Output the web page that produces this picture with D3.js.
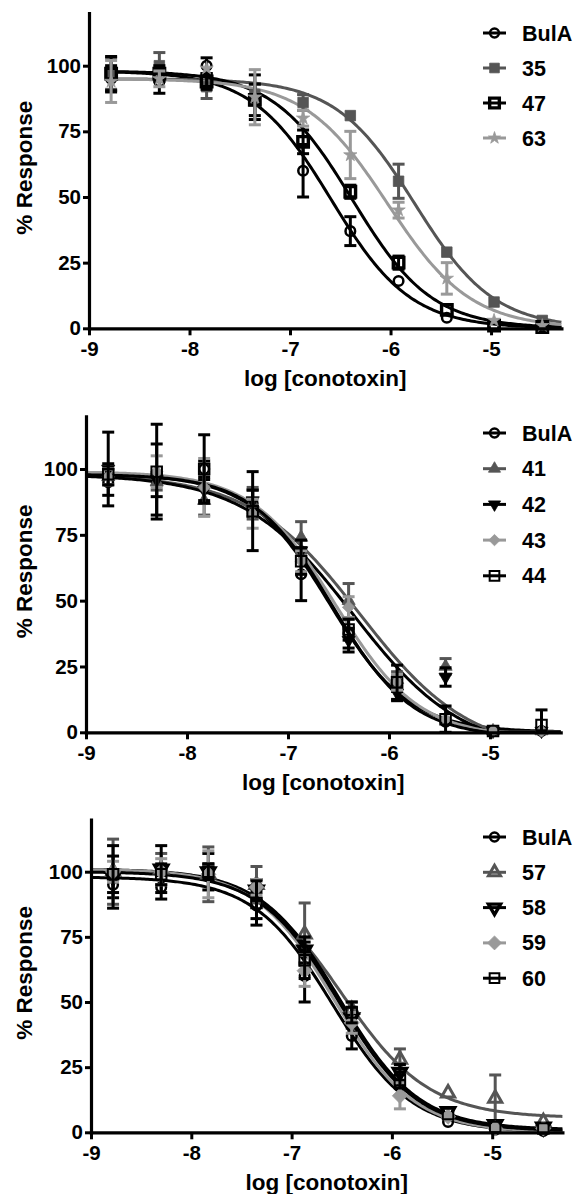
<!DOCTYPE html>
<html><head><meta charset="utf-8">
<script src="https://cdn.jsdelivr.net/npm/d3@7"></script>
<style>
body{margin:0;background:#fff}
svg{display:block}
text{font-family:"Liberation Sans",Arial,Helvetica,sans-serif;font-weight:bold;fill:#000}
</style>
</head><body>
<svg id="chart" width="577" height="1194"></svg>
<script>
// ---------- data ----------
const logConc = [-8.78, -8.30, -7.83, -7.35, -6.87, -6.40, -5.92, -5.44, -4.97, -4.49];
const xTicks = [-9, -8, -7, -6, -5];
const yTicks = [0, 25, 50, 75, 100];
const xTitle = "log [conotoxin]";
const yTitle = "% Response";

// Panel A
const A_series = ["BulA", "35", "47", "63"];
const A_BulA = [95, 94, 100, 88, 60, 37, 18, 4, 1, 0.5];
const A_BulA_sem = [5, 4.5, 3, 8.5, 10, 5.5, 2, 1.5, 1, 0.5];
const A_35 = [97, 100, 92, 89, 86, 81, 56, 29, 10, 3];
const A_35_sem = [6, 5, 4.5, 4, 3, 2, 6.5, 2, 1.5, 1];
const A_47 = [97, 97, 94, 87, 71, 52, 25, 7, 1, 0.5];
const A_47_sem = [6.5, 3, 3, 6, 4.5, 2.5, 2.5, 2, 1, 0.5];
const A_63 = [94, 95, 99, 88, 80, 66, 45, 19, 3, 1];
const A_63_sem = [8, 3, 2, 10.5, 3, 9, 3, 6, 1.5, 1];
const A_top = [98, 95, 98, 95];
const A_bottom = [0, 0, 0, 0];
const A_logIC50 = [-6.59, -5.76, -6.38, -6.03];
const A_hill = [1.1, 1.1, 1.1, 1.05];

// Panel B
const B_series = ["BulA", "41", "42", "43", "44"];
const B_BulA = [95, 94, 100, 87, 60, 37.5, 18.5, 4, 0.5, 0.5];
const B_BulA_sem = [5, 4.5, 3, 5, 10, 5.5, 3, 2, 1, 0.5];
const B_41 = [97, 95, 88, 87, 74, 50, 20, 25, 0.5, 0.5];
const B_41_sem = [3, 3, 5.5, 6, 6, 6.5, 3, 3, 1, 0.5];
const B_42 = [100, 96, 92, 88, 69, 35, 15, 21, 0.5, 0.5];
const B_42_sem = [14, 13.5, 4, 4, 4, 4.5, 3, 3.5, 1, 0.5];
const B_43 = [97, 99, 93, 83, 65, 47.5, 19, 5, 0.5, 0.5];
const B_43_sem = [3, 6, 11, 5.5, 4, 4, 3, 2, 1, 0.5];
const B_44 = [98, 99, 100, 84, 65, 39, 19, 5, 0.5, 2.8];
const B_44_sem = [4, 18, 13, 15, 5, 4, 6.5, 5, 1, 5.7];
const B_top = [98, 98, 98, 99, 98];
const B_bottom = [0, -8, -8, -2, -2];
const B_logIC50 = [-6.59, -6.29, -6.36, -6.53, -6.56];
const B_hill = [1.1, 0.8, 0.8, 1.05, 1.1];

// Panel C
const C_series = ["BulA", "57", "58", "59", "60"];
const C_BulA = [95, 94, 100, 87, 60, 37, 18, 4, 1, 0.5];
const C_BulA_sem = [5, 4.5, 3, 5, 10, 5, 2, 1.5, 1, 0.5];
const C_57 = [100, 101, 99, 95, 76, 47, 28, 15, 13, 4];
const C_57_sem = [12.5, 6, 10.5, 7, 12, 3, 4, 2, 9, 1.5];
const C_58 = [98, 101, 100, 93, 70, 44, 23, 8, 3, 2];
const C_58_sem = [12, 9, 7, 4, 5, 4, 3, 2, 1, 1];
const C_59 = [100, 100, 99, 94, 62, 42, 14, 6, 1.5, 1.5];
const C_59_sem = [4, 5, 9, 3, 6, 4, 5, 2, 1, 1];
const C_60 = [99, 99, 100, 88, 66, 46, 20, 7, 2, 1.5];
const C_60_sem = [7, 4, 3, 8.5, 7, 4, 3, 2, 1, 1];
const C_top = [98, 101, 101, 101, 100];
const C_bottom = [0, 5.5, 1, 0, 0.5];
const C_logIC50 = [-6.59, -6.5, -6.52, -6.57, -6.53];
const C_hill = [1.1, 1.0, 1.1, 1.1, 1.1];

// ---------- styles ----------
const styles = {
  "BulA": {color: "#000", shape: "circle", fill: false, sw: 2.5},
  "35":   {color: "#555", shape: "square", fill: true},
  "47":   {color: "#000", shape: "square", fill: false, sw: 3.4},
  "63":   {color: "#999", shape: "star", fill: true},
  "41":   {color: "#555", shape: "triUp", fill: true},
  "42":   {color: "#000", shape: "triDown", fill: true},
  "43":   {color: "#999", shape: "diamond", fill: true},
  "44":   {color: "#000", shape: "square", fill: false, sw: 2},
  "57":   {color: "#555", shape: "triUp", fill: false, sw: 3},
  "58":   {color: "#000", shape: "triDown", fill: false, sw: 3.4},
  "59":   {color: "#999", shape: "diamondL", fill: true},
  "60":   {color: "#000", shape: "square", fill: false, sw: 2}
};

const panels = [
  {series: A_series, values: [A_BulA, A_35, A_47, A_63], sems: [A_BulA_sem, A_35_sem, A_47_sem, A_63_sem],
   top: A_top, bottom: A_bottom, ic: A_logIC50, hill: A_hill,
   g: {x0: 89, x1: 561.4, y0: 328.3, y100: 65.7, start: -8.8, legTop: 33, legStep: 35}},
  {series: B_series, values: [B_BulA, B_41, B_42, B_43, B_44], sems: [B_BulA_sem, B_41_sem, B_42_sem, B_43_sem, B_44_sem],
   top: B_top, bottom: B_bottom, ic: B_logIC50, hill: B_hill,
   g: {x0: 86, x1: 560.7, y0: 732.3, y100: 469, start: -9, legTop: 433, legStep: 35.7}},
  {series: C_series, values: [C_BulA, C_57, C_58, C_59, C_60], sems: [C_BulA_sem, C_57_sem, C_58_sem, C_59_sem, C_60_sem],
   top: C_top, bottom: C_bottom, ic: C_logIC50, hill: C_hill,
   g: {x0: 91, x1: 562.4, y0: 1132.3, y100: 871.7, start: -9, legTop: 837, legStep: 35.3}}
];

const svg = d3.select("#chart");

function symbolPath(shape, scale) {
  const s = scale || 1;
  switch (shape) {
    case "circle": return d3.symbol(d3.symbolCircle, Math.PI * 4.8 * 4.8 * s * s)();
    case "square": return d3.symbol(d3.symbolSquare, 10.5 * 10.5 * s * s)();
    case "star": return d3.symbol(d3.symbolStar, 55 * s * s)();
    case "triUp":
    case "triDown": return d3.symbol(d3.symbolTriangle, 75 * s * s)();
    case "diamond": { const r = 6.2 * s; return `M0,${-r}L${r},0L0,${r}L${-r},0Z`; }
    case "diamondL": { const r = 7.6 * s; return `M0,${-r}L${r},0L0,${r}L${-r},0Z`; }
  }
}
function drawSymbol(g, st, x, y, scale) {
  g.append("path")
    .attr("d", symbolPath(st.shape, scale))
    .attr("transform", `translate(${x},${y})` + (st.shape === "triDown" ? " rotate(180)" : ""))
    .attr("fill", st.fill ? st.color : "none")
    .attr("stroke", st.color)
    .attr("stroke-width", st.fill ? 0.8 : st.sw)
    .attr("stroke-linejoin", "miter");
}

panels.forEach(p => {
  const G = p.g;
  const k = (G.y0 - G.y100) / 100;
  const x = d3.scaleLinear().domain([-9, -4.3]).range([G.x0, G.x1]);
  const y = d3.scaleLinear().domain([0, 120]).range([G.y0, G.y0 - 120 * k]);
  const g = svg.append("g");

  // fitted curves
  const line = d3.line().x(d => x(d[0])).y(d => y(Math.max(0, d[1])));
  p.series.forEach((name, i) => {
    const st = styles[name];
    const pts = d3.range(0, 241).map(j => {
      const lx = G.start + (-4.3 - G.start) * j / 240;
      const v = p.bottom[i] + (p.top[i] - p.bottom[i]) / (1 + Math.pow(10, (lx - p.ic[i]) * p.hill[i]));
      return [lx, v];
    });
    g.append("path").attr("d", line(pts)).attr("fill", "none")
      .attr("stroke", st.color).attr("stroke-width", 3);
  });

  // error bars and symbols
  p.series.forEach((name, i) => {
    const st = styles[name];
    const sg = g.append("g");
    logConc.forEach((lc, j) => {
      const v = p.values[i][j], e = p.sems[i][j];
      const cx = x(lc), cy = y(v);
      if (e * k > 6) {
        const yt = y(v + e), yb = y(Math.max(0, v - e));
        sg.append("line").attr("x1", cx).attr("x2", cx).attr("y1", yt).attr("y2", yb)
          .attr("stroke", st.color).attr("stroke-width", 3);
        [yt, yb].forEach(yy => sg.append("line").attr("x1", cx - 6).attr("x2", cx + 6)
          .attr("y1", yy).attr("y2", yy).attr("stroke", st.color).attr("stroke-width", 3));
      }
    });
    logConc.forEach((lc, j) => drawSymbol(sg, st, x(lc), y(p.values[i][j]), 1));
  });

  // axes
  const ax = g.append("g").attr("transform", `translate(0,${G.y0})`)
    .call(d3.axisBottom(x).tickValues(xTicks).tickSize(7).tickSizeOuter(0).tickPadding(6).tickFormat(d => String(d)));
  const ay = g.append("g").attr("transform", `translate(${G.x0},0)`)
    .call(d3.axisLeft(y).tickValues(yTicks).tickSize(6).tickSizeOuter(0).tickPadding(2).tickFormat(d => String(d)));
  [ax, ay].forEach(a => {
    a.select(".domain").attr("stroke", "#000").attr("stroke-width", 3.2).attr("stroke-linecap", "square");
    a.selectAll(".tick line").attr("stroke", "#000").attr("stroke-width", 3);
    a.selectAll(".tick text").attr("font-size", 20.5).attr("font-family", null).attr("fill", "#000");
  });

  // axis titles
  g.append("text").attr("x", (G.x0 + G.x1) / 2).attr("y", G.y0 + 58)
    .attr("text-anchor", "middle").attr("font-size", 22.5).text(xTitle);
  g.append("text").attr("transform", `translate(31.5,${y(60) - 3}) rotate(-90)`)
    .attr("text-anchor", "middle").attr("font-size", 22.5).text(yTitle);

  // legend
  p.series.forEach((name, i) => {
    const st = styles[name];
    const ly = G.legTop + i * G.legStep;
    const lg = g.append("g");
    lg.append("line").attr("x1", 483).attr("x2", 506).attr("y1", ly).attr("y2", ly)
      .attr("stroke", st.color).attr("stroke-width", 3);
    drawSymbol(lg, st, 494.5, ly, 0.92);
    lg.append("text").attr("x", 522).attr("y", ly + 7.5).attr("font-size", 21.5).text(name);
  });
});
</script>
</body></html>
